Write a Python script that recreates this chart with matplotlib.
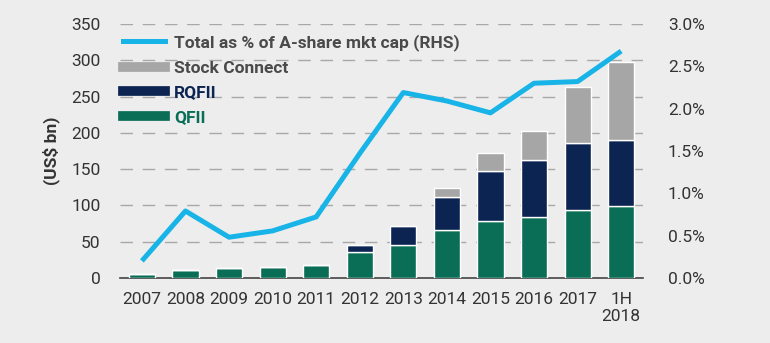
import matplotlib
matplotlib.use("Agg")
import matplotlib.pyplot as plt
from matplotlib.lines import Line2D
from matplotlib.ticker import FuncFormatter
import numpy as np

years = ["2007", "2008", "2009", "2010", "2011", "2012", "2013",
         "2014", "2015", "2016", "2017", "1H\n2018"]
qfii = [5, 11, 13, 15.5, 18, 35, 45, 66, 79, 84, 94, 99]
rqfii = [0, 0, 0, 0, 0, 10, 27, 46, 68, 79, 92, 91]
stock_connect = [0, 0, 0, 0, 0, 0, 0, 12, 25, 39, 77, 108]
pct_mktcap = [0.20, 0.79, 0.48, 0.555, 0.72, 1.47, 2.19, 2.09, 1.95, 2.30, 2.32, 2.68]

bg = "#ededed"
green = "#0a6e56"
navy = "#0b2452"
grey = "#a6a6a6"
cyan = "#18b4e8"
txt = "#333333"

plt.rcParams["font.family"] = ["Roboto", "DejaVu Sans"]
plt.rcParams["font.size"] = 12.5

fig = plt.figure(figsize=(7.7, 3.43), dpi=100, facecolor=bg)
ax = fig.add_axes([0.156, 0.19, 0.679, 0.74])
ax.set_facecolor(bg)
ax2 = ax.twinx()

x = np.arange(len(years))
w = 0.6
q = np.array(qfii)
r = np.array(rqfii)
s = np.array(stock_connect)
ax.bar(x, q, w, color=green, edgecolor="white", linewidth=1, zorder=3)
ax.bar(x, r, w, bottom=q, color=navy, edgecolor="white", linewidth=1, zorder=3)
ax.bar(x, s, w, bottom=q + r, color=grey, edgecolor="white", linewidth=1, zorder=3)

ax2.plot(x, pct_mktcap, color=cyan, linewidth=3.6, solid_capstyle="butt", zorder=4)

ax.set_xlim(-0.5, len(years) - 0.5)
ax.set_ylim(0, 350)
ax.set_yticks(range(0, 351, 50))
ax2.set_ylim(0, 3.0)
ax2.set_yticks(np.arange(0, 3.01, 0.5))
ax2.yaxis.set_major_formatter(FuncFormatter(lambda v, p: "%.1f%%" % v))

ax.set_xticks(x)
ax.set_xticklabels(years, color=txt)
ax.yaxis.grid(True, color="#a8a8a8", linewidth=1, dashes=(9, 7), zorder=0)
ax.set_axisbelow(True)

for a in (ax, ax2):
    for sp in ("top", "right", "left", "bottom"):
        a.spines[sp].set_visible(False)
    a.tick_params(length=0, colors=txt, labelsize=12.5)
ax.spines["bottom"].set_visible(True)
ax.spines["bottom"].set_color("#444444")
ax.spines["bottom"].set_linewidth(1.2)
ax.tick_params(axis="x", pad=10)
ax.tick_params(axis="y", pad=14)
ax2.tick_params(axis="y", pad=18)

ax.set_ylabel("(US$ bn)", fontweight="bold", color=txt, fontsize=12.5, labelpad=8)

handles = [
    Line2D([], [], color=cyan, linewidth=3.6),
    Line2D([], [], color=grey, linewidth=7),
    Line2D([], [], color=navy, linewidth=7),
    Line2D([], [], color=green, linewidth=7),
]
labels = ["Total as % of A-share mkt cap (RHS)", "Stock Connect", "RQFII", "QFII"]
leg = ax2.legend(handles, labels, loc="upper left", bbox_to_anchor=(0.005, 0.96),
                 frameon=False, handlelength=2.45, handletextpad=0.5,
                 labelspacing=0.55, borderaxespad=0, borderpad=0,
                 prop={"weight": "bold", "size": 12.5})
for t, c in zip(leg.get_texts(), ["#4a4a4a", "#4a4a4a", navy, green]):
    t.set_color(c)

fig.savefig("out.png", dpi=100, facecolor=bg)
